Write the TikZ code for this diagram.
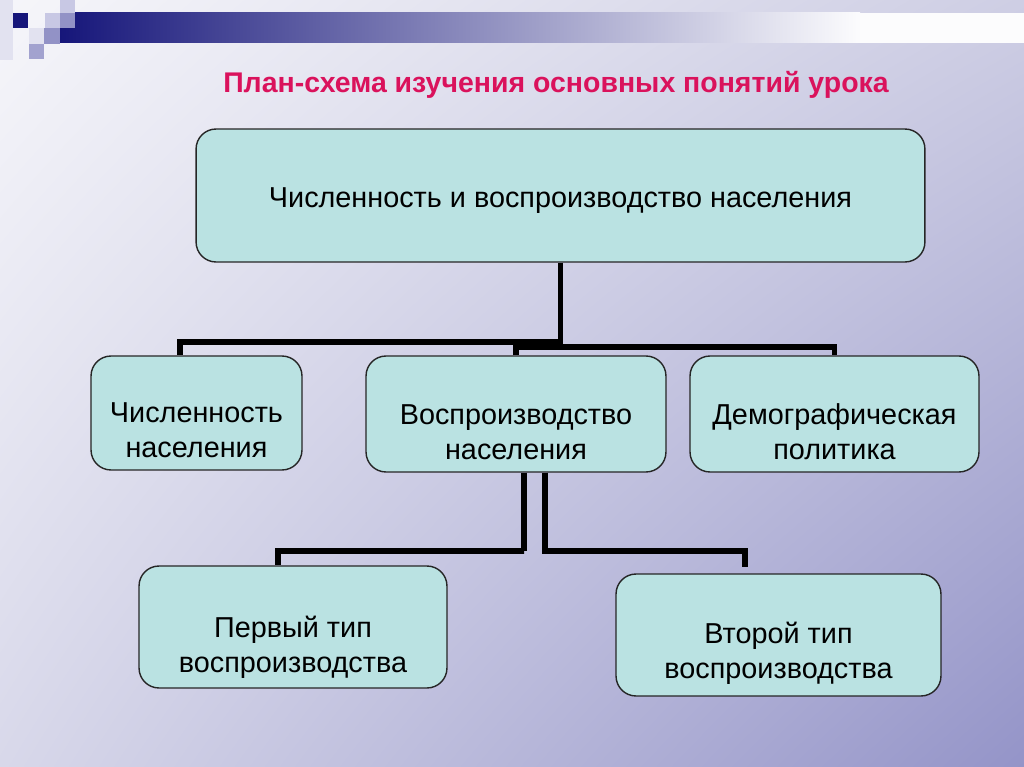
\documentclass[tikz,border=0pt]{standalone}
\usepackage{fontspec}
\setmainfont{Liberation Sans}
\usetikzlibrary{positioning,shadings}
\definecolor{boxfill}{RGB}{186,226,226}
\definecolor{titlered}{RGB}{218,18,92}
\definecolor{navy}{RGB}{22,22,122}
\definecolor{lavA}{RGB}{226,226,240}
\definecolor{lavB}{RGB}{200,200,228}
\definecolor{lavC}{RGB}{146,146,198}
\definecolor{bgUL}{RGB}{246,246,250}
\definecolor{bgUR}{RGB}{206,206,228}
\definecolor{bgLL}{RGB}{216,216,234}
\definecolor{bgLR}{RGB}{148,148,200}
\tikzset{
  box/.style={draw=black!85, line width=0.8pt, fill=boxfill, rounded corners=0.4cm, inner sep=0pt},
  boxtext/.style={align=center, font=\fontsize{16.4}{20}\selectfont, inner sep=0pt},
  link/.style={line width=3.4pt, black, line join=miter}
}
\begin{document}
\begin{tikzpicture}[x=0.02cm,y=-0.02cm]
\shade[upper left=bgUL, upper right=bgUR, lower left=bgLL, lower right=bgLR] (0,0) rectangle (1024,767);
\fill[lavA] (0,0) rectangle (13,60);
\shade[left color=navy, right color=white!94!lavB] (60,13) rectangle (860,43);
\fill[white!94!lavB] (860,13) rectangle (1024,43);
\fill[navy] (13,13) rectangle (28,28);
\fill[lavB] (45,13) rectangle (60,28);
\fill[lavB] (60,0) rectangle (75,13);
\fill[lavC] (60,13) rectangle (75,28);
\fill[lavA] (29,28) rectangle (44,44);
\fill[lavC] (44,28) rectangle (60,44);
\fill[lavC!85!white] (29,44) rectangle (44,59);
\node[font=\bfseries\fontsize{16.2}{19}\selectfont, text=titlered] (title) at (556,85) {План-схема изучения основных понятий урока};
\node[box, minimum width=14.58cm, minimum height=2.66cm] (top) at (560.5,195.5) {};
\node[box, minimum width=4.22cm, minimum height=2.28cm] (A) at (196.5,413) {};
\node[box, minimum width=6.0cm, minimum height=2.32cm] (B) at (516,414) {};
\node[box, minimum width=5.78cm, minimum height=2.32cm] (C) at (834.5,414) {};
\node[box, minimum width=6.16cm, minimum height=2.44cm] (D) at (293,627) {};
\node[box, minimum width=6.5cm, minimum height=2.44cm] (E) at (778.5,635) {};
\node[boxtext] (top-t) at ([yshift=-0.1cm]top.center) {Численность и воспроизводство населения};
\node[boxtext] (A-t) at ([yshift=-0.34cm]A.center) {Численность\\населения};
\node[boxtext] (B-t) at ([yshift=-0.36cm]B.center) {Воспроизводство\\населения};
\node[boxtext] (C-t) at ([yshift=-0.36cm]C.center) {Демографическая\\политика};
\node[boxtext] (D-t) at ([yshift=-0.4cm]D.center) {Первый тип\\воспроизводства};
\node[boxtext] (E-t) at ([yshift=-0.36cm]E.center) {Второй тип\\воспроизводства};
\coordinate (hubL) at (560.5,342);
\coordinate (hubR) at (560.5,347);
\coordinate (hubD) at (524,551);
\coordinate (hubE) at (545,551);
\draw[link] (top.south) -- (hubR);
\draw[link] (hubL) -| ([xshift=-0.33cm]A.north);
\draw[link] (B.north) |- (hubR) -| (C.north);
\draw[link] ([xshift=0.16cm]B.south) |- (hubD) -| ([xshift=-0.3cm]D.north);
\draw[link, shorten >=0.12cm] ([xshift=0.58cm]B.south) |- (hubE) -| ([xshift=-0.67cm]E.north);
\end{tikzpicture}
\end{document}
